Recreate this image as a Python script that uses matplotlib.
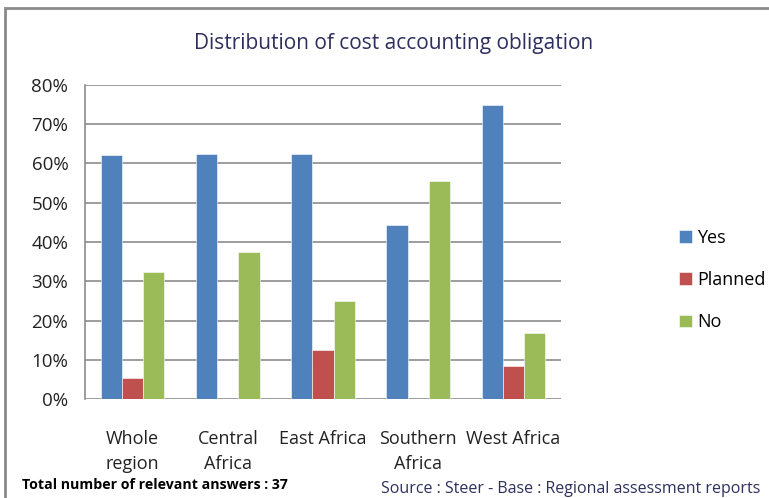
import matplotlib
matplotlib.use("Agg")
import matplotlib.pyplot as plt
import numpy as np
from matplotlib.patches import Rectangle

plt.rcParams['font.family'] = ['Open Sans', 'DejaVu Sans']

categories = ["Whole\nregion", "Central\nAfrica", "East Africa", "Southern\nAfrica", "West Africa"]
series_names = ["Yes", "Planned", "No"]
yes = [62.2, 62.5, 62.5, 44.4, 75.0]
planned = [5.4, 0.0, 12.5, 0.0, 8.3]
no = [32.4, 37.5, 25.0, 55.6, 16.7]
colors = ["#4F81BD", "#C0504D", "#9BBB59"]
yticks = [0, 10, 20, 30, 40, 50, 60, 70, 80]

fig = plt.figure(figsize=(7.69, 4.98), dpi=100)
ax = fig.add_axes([85/769, 1-399/498, (561-85)/769, (399-85)/498])

x = np.arange(len(categories))
w = 0.223
for i, (vals, name, c) in enumerate(zip([yes, planned, no], series_names, colors)):
    ax.bar(x + (i-1)*w, vals, width=w, color=c, label=name, zorder=3,
           edgecolor='white', linewidth=0.4)

ax.set_xlim(-0.5, len(categories)-0.5)
ax.set_ylim(0, 80)
ax.set_yticks(yticks)
ax.set_yticklabels([f"{t}%" for t in yticks], fontsize=13.5, color='#222222')
ax.set_xticks(x)
ax.set_xticklabels(categories, fontsize=13, color='#222222', linespacing=1.5)
ax.tick_params(axis='x', length=0, pad=22)
ax.tick_params(axis='y', length=0, pad=12)
ax.grid(axis='y', color='#8c8c8c', linewidth=1.2, zorder=0)
for s in ['top', 'right', 'bottom']:
    ax.spines[s].set_visible(False)
ax.spines['left'].set_color('#8c8c8c')
ax.spines['left'].set_linewidth(1.2)

fig.text(394/769, 1-43/498, "Distribution of cost accounting obligation", ha='center', va='center',
         fontsize=15, color='#2f2f5f')

leg = fig.legend(loc='center left', bbox_to_anchor=(663/769, 1-280/498), frameon=False,
                 fontsize=13, handlelength=0.7, handleheight=0.7, labelspacing=1.35,
                 handletextpad=0.3)

fig.text(22/769, 1-485/498, "Total number of relevant answers : 37", ha='left', va='center',
         fontsize=10.2, color='black', fontweight='bold')
fig.text(760/769, 1-489/498, "Source : Steer - Base : Regional assessment reports", ha='right',
         va='center', fontsize=11.5, color='#2f2f5f')

fig.patches.append(Rectangle((5/769, -0.05), 1.0, 1-8/498+0.05, transform=fig.transFigure,
                             fill=False, edgecolor='#8a8a8a', linewidth=2))

fig.savefig("out.png", dpi=100)
